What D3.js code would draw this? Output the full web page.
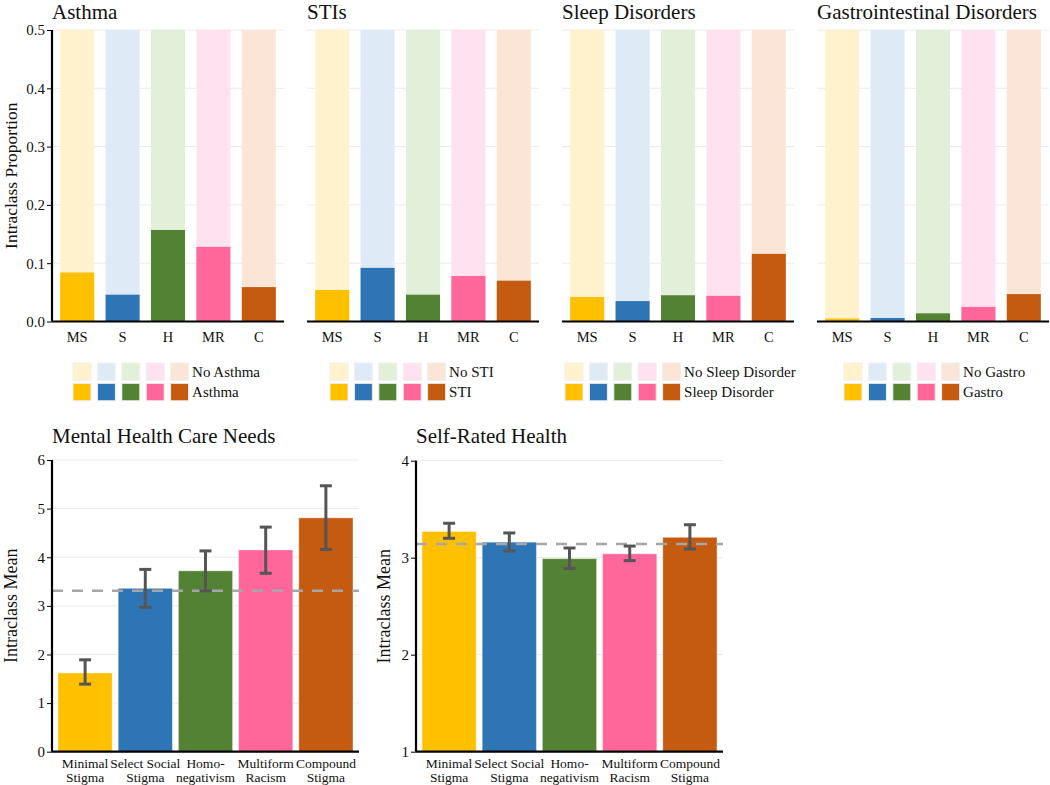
<!DOCTYPE html>
<html><head><meta charset="utf-8">
<script src="https://cdn.jsdelivr.net/npm/d3@7"></script>
<style>
html,body{margin:0;padding:0;background:#fff;}
svg{display:block;font-family:"Liberation Serif","Times New Roman",serif;}
</style></head>
<body>
<svg id="chart" width="1050" height="785"></svg>
<script>
// ---------- data ----------
const groupCodes = ["MS", "S", "H", "MR", "C"];
const groupNames = [["Minimal", "Stigma"], ["Select Social", "Stigma"], ["Homo-", "negativism"], ["Multiform", "Racism"], ["Compound", "Stigma"]];
const darkColors = ["#FFC000", "#2E75B6", "#548235", "#FF6699", "#C55A11"];
const lightColors = ["#FFF2CC", "#DEEBF7", "#E2F0D9", "#FFE1F0", "#FBE5D6"];

const panelTitles = ["Asthma", "STIs", "Sleep Disorders", "Gastrointestinal Disorders"];
const legendNo = ["No Asthma", "No STI", "No Sleep Disorder", "No Gastro"];
const legendYes = ["Asthma", "STI", "Sleep Disorder", "Gastro"];
const asthma = [0.084, 0.046, 0.157, 0.128, 0.059];
const stis = [0.054, 0.092, 0.046, 0.078, 0.070];
const sleep = [0.042, 0.035, 0.045, 0.044, 0.116];
const gastro = [0.005, 0.006, 0.014, 0.025, 0.047];
const propTicks = [0, 0.1, 0.2, 0.3, 0.4, 0.5];

const mhMean = [1.62, 3.36, 3.72, 4.15, 4.81];
const mhLow = [1.39, 2.97, 3.31, 3.67, 4.16];
const mhHigh = [1.89, 3.75, 4.13, 4.62, 5.47];
const mhOverall = 3.31;
const mhTicks = [0, 1, 2, 3, 4, 5, 6];

const srhMean = [3.27, 3.16, 2.99, 3.04, 3.21];
const srhLow = [3.20, 3.07, 2.89, 2.97, 3.09];
const srhHigh = [3.355, 3.255, 3.10, 3.12, 3.34];
const srhOverall = 3.14;
const srhTicks = [1, 2, 3, 4];

// ---------- drawing ----------
const svg = d3.select("#chart");
const propData = [asthma, stis, sleep, gastro];
const topX0 = [52, 307, 562, 817];
const topW = 232;
const legendX = [73, 330, 565, 844];
const yTop = d3.scaleLinear().domain([0, 0.5]).range([321.5, 30]);

propData.forEach((vals, p) => {
  const g = svg.append("g");
  const x = d3.scaleBand().domain(groupCodes).range([topX0[p], topX0[p] + topW])
    .paddingInner(0.25).paddingOuter(0.18);
  g.selectAll("line.grid").data(propTicks.slice(1)).enter().append("line")
    .attr("x1", topX0[p]).attr("x2", topX0[p] + topW)
    .attr("y1", d => yTop(d)).attr("y2", d => yTop(d))
    .attr("stroke", "#ebebeb").attr("stroke-width", 1);
  g.selectAll("rect.bg").data(groupCodes).enter().append("rect")
    .attr("x", d => x(d)).attr("width", x.bandwidth())
    .attr("y", yTop(0.5)).attr("height", yTop(0) - yTop(0.5))
    .attr("fill", (d, i) => lightColors[i]);
  g.selectAll("rect.fg").data(vals).enter().append("rect")
    .attr("x", (d, i) => x(groupCodes[i])).attr("width", x.bandwidth())
    .attr("y", d => yTop(d)).attr("height", d => yTop(0) - yTop(d))
    .attr("fill", (d, i) => darkColors[i]);
  const xa = g.append("g").attr("transform", `translate(0,${yTop(0)})`)
    .call(d3.axisBottom(x).tickSize(0).tickPadding(10));
  xa.select(".domain").attr("stroke", "#000").attr("stroke-width", 2.2)
    .attr("d", `M${topX0[p]},0H${topX0[p] + topW}`);
  xa.selectAll("text").attr("font-size", 14.5).attr("font-family", "Liberation Serif").attr("fill", "#111");
  if (p === 0) {
    const ya = g.append("g").attr("transform", `translate(${topX0[p]},0)`)
      .call(d3.axisLeft(yTop).tickValues(propTicks).tickFormat(d3.format(".1f")).tickSize(5).tickPadding(2));
    ya.select(".domain").attr("stroke", "#000").attr("stroke-width", 2.2).attr("d", `M0,${yTop(0.5)}V${yTop(0)}`);
    ya.selectAll(".tick line").attr("stroke", "#000");
    ya.selectAll("text").attr("font-size", 15).attr("font-family", "Liberation Serif").attr("fill", "#111");
    svg.append("text").attr("transform", `translate(16.5,${(yTop(0) + yTop(0.5)) / 2}) rotate(-90)`)
      .attr("text-anchor", "middle").attr("font-size", 17.5).attr("fill", "#111").text("Intraclass Proportion");
  }
  svg.append("text").attr("x", topX0[p]).attr("y", 19).attr("font-size", 21).attr("fill", "#111").text(panelTitles[p]);
  const lg = svg.append("g").attr("transform", `translate(${legendX[p]},363)`);
  [lightColors, darkColors].forEach((cols, r) => {
    cols.forEach((c, i) => {
      lg.append("rect").attr("x", i * 24.4).attr("y", r * 20.3).attr("width", 18).attr("height", 17.5)
        .attr("fill", c).attr("stroke", "#f0f0f0").attr("stroke-width", 1);
    });
    lg.append("text").attr("x", 4 * 24.4 + 21.5).attr("y", r * 20.3 + 14)
      .attr("font-size", 15).attr("fill", "#111").text(r === 0 ? legendNo[p] : legendYes[p]);
  });
});

const bottomPanels = [
  {title: "Mental Health Care Needs", x0: 52, labelX: 16.5, mean: mhMean, low: mhLow, high: mhHigh, overall: mhOverall, ticks: mhTicks, dom: [0, 6], top: 460},
  {title: "Self-Rated Health", x0: 416, labelX: 390, mean: srhMean, low: srhLow, high: srhHigh, overall: srhOverall, ticks: srhTicks, dom: [1, 4], top: 460.7}
];
const botW = 307, botBase = 751.7;
bottomPanels.forEach(bp => {
  const g = svg.append("g");
  const x = d3.scaleBand().domain(groupCodes).range([bp.x0, bp.x0 + botW]).paddingInner(0.1).paddingOuter(0.1);
  const y = d3.scaleLinear().domain(bp.dom).range([botBase, bp.top]);
  g.selectAll("line.grid").data(bp.ticks.slice(1)).enter().append("line")
    .attr("x1", bp.x0).attr("x2", bp.x0 + botW)
    .attr("y1", d => y(d)).attr("y2", d => y(d))
    .attr("stroke", "#ebebeb").attr("stroke-width", 1);
  g.selectAll("rect.bar").data(bp.mean).enter().append("rect")
    .attr("x", (d, i) => x(groupCodes[i])).attr("width", x.bandwidth())
    .attr("y", d => y(d)).attr("height", d => y(bp.dom[0]) - y(d))
    .attr("fill", (d, i) => darkColors[i])
    .attr("stroke", "rgba(255,255,255,0.35)").attr("stroke-width", 1);
  g.append("line").attr("x1", bp.x0).attr("x2", bp.x0 + botW)
    .attr("y1", y(bp.overall)).attr("y2", y(bp.overall))
    .attr("stroke", "#a6a6a6").attr("stroke-width", 2.5).attr("stroke-dasharray", "11,9");
  bp.mean.forEach((m, i) => {
    const cx = x(groupCodes[i]) + x.bandwidth() / 2;
    const eg = g.append("g").attr("stroke", "#555").attr("stroke-width", 3);
    eg.append("line").attr("x1", cx).attr("x2", cx).attr("y1", y(bp.low[i])).attr("y2", y(bp.high[i]));
    eg.append("line").attr("x1", cx - 6).attr("x2", cx + 6).attr("y1", y(bp.low[i])).attr("y2", y(bp.low[i]));
    eg.append("line").attr("x1", cx - 6).attr("x2", cx + 6).attr("y1", y(bp.high[i])).attr("y2", y(bp.high[i]));
  });
  const xa = g.append("g").attr("transform", `translate(0,${botBase})`)
    .call(d3.axisBottom(x).tickSize(0).tickFormat(""));
  xa.select(".domain").attr("stroke", "#000").attr("stroke-width", 2.2).attr("d", `M${bp.x0},0H${bp.x0 + botW}`);
  groupNames.forEach((lines, i) => {
    const cx = x(groupCodes[i]) + x.bandwidth() / 2;
    lines.forEach((t, k) => {
      g.append("text").attr("x", cx).attr("y", botBase + 16 + k * 14.5)
        .attr("text-anchor", "middle").attr("font-size", 13.5).attr("fill", "#111").text(t);
    });
  });
  const ya = g.append("g").attr("transform", `translate(${bp.x0},0)`)
    .call(d3.axisLeft(y).tickValues(bp.ticks).tickFormat(d3.format("d")).tickSize(5).tickPadding(2));
  ya.select(".domain").attr("stroke", "#000").attr("stroke-width", 2.2).attr("d", `M0,${bp.top}V${botBase}`);
  ya.selectAll(".tick line").attr("stroke", "#000");
  ya.selectAll("text").attr("font-size", 15).attr("font-family", "Liberation Serif").attr("fill", "#111");
  svg.append("text").attr("transform", `translate(${bp.labelX},${(bp.top + botBase) / 2}) rotate(-90)`)
    .attr("text-anchor", "middle").attr("font-size", 18).attr("fill", "#111").text("Intraclass Mean");
  svg.append("text").attr("x", bp.x0).attr("y", 443).attr("font-size", 21).attr("fill", "#111").text(bp.title);
});
</script>
</body></html>
